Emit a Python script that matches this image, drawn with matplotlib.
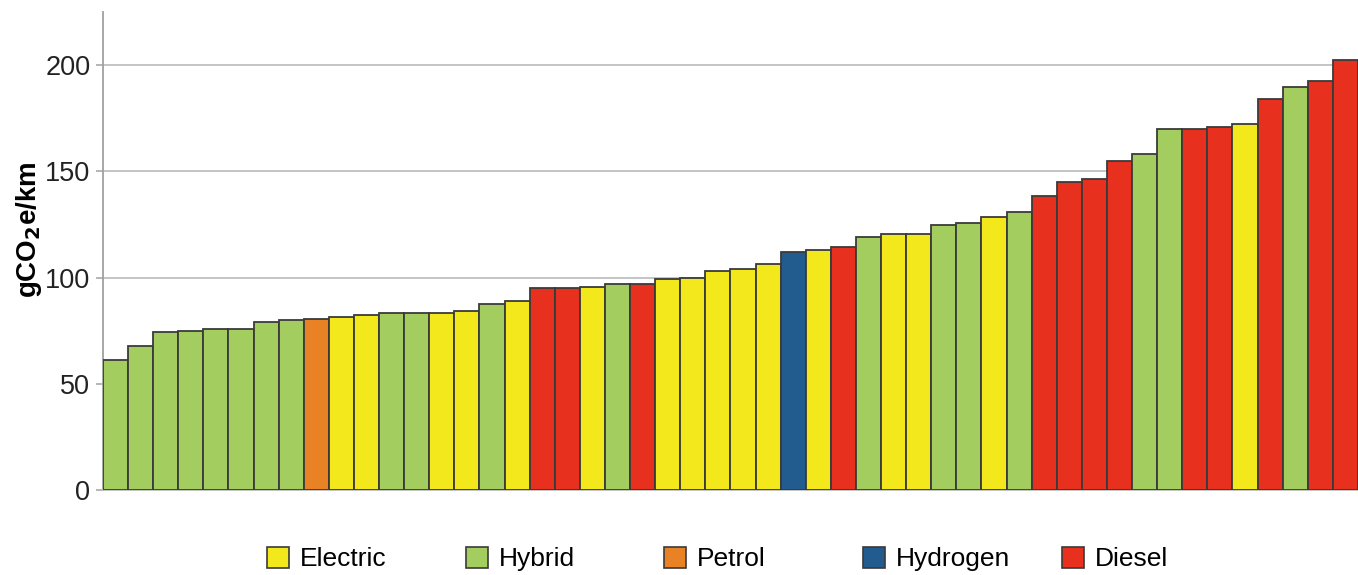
import numpy as np
import matplotlib.pyplot as plt
from matplotlib.patches import Patch

plt.rcParams['font.family'] = ['Liberation Sans', 'DejaVu Sans']

# 차량별 배출량 (왼쪽부터)
kinds = ['Hybrid', 'Hybrid', 'Hybrid', 'Hybrid', 'Hybrid', 'Hybrid', 'Hybrid', 'Hybrid',
         'Petrol', 'Electric', 'Electric', 'Hybrid', 'Hybrid', 'Electric', 'Electric',
         'Hybrid', 'Electric', 'Diesel', 'Diesel', 'Electric', 'Hybrid', 'Diesel',
         'Electric', 'Electric', 'Electric', 'Electric', 'Electric', 'Hydrogen',
         'Electric', 'Diesel', 'Hybrid', 'Electric', 'Electric', 'Hybrid', 'Hybrid',
         'Electric', 'Hybrid', 'Diesel', 'Diesel', 'Diesel', 'Diesel', 'Hybrid',
         'Hybrid', 'Diesel', 'Diesel', 'Electric', 'Diesel', 'Hybrid', 'Diesel', 'Diesel']
values = [61, 68, 74.5, 75, 76, 76, 79, 80,
          80.5, 81.5, 82.5, 83.5, 83.5, 83.5, 84.5,
          87.5, 89, 95, 95, 95.5, 97, 97,
          99.5, 100, 103, 104, 106.5, 112,
          113, 114.5, 119, 120.5, 120.5, 125, 125.5,
          128.5, 131, 138.5, 145, 146.5, 155, 158,
          170, 170, 171, 172.5, 184, 190, 192.5, 202.5]

legend_order = ['Electric', 'Hybrid', 'Petrol', 'Hydrogen', 'Diesel']
colors = {'Electric': '#f2e81c', 'Hybrid': '#a3cd5f', 'Petrol': '#e88224',
          'Hydrogen': '#225b8e', 'Diesel': '#e8301f'}
yticks = [0, 50, 100, 150, 200]

fig = plt.figure(figsize=(13.58, 5.75), dpi=100)
ax = fig.add_axes([0.0758, 0.1478, 0.9242, 0.831])

x = np.arange(len(values))
ax.bar(x, values, width=1.0, color=[colors[k] for k in kinds],
       edgecolor='#3a3a3a', linewidth=1.3, zorder=3)

ax.set_xlim(-0.5, len(values) - 0.5)
ax.set_ylim(0, 225)
ax.set_yticks(yticks)
ax.set_xticks([])
ax.tick_params(axis='y', labelsize=19.5, length=5, color='#b0b0b0', width=1.3, pad=4,
               labelcolor='#222222')
ax.grid(axis='y', color='#c4c4c4', linewidth=1.4, zorder=0)
ax.set_axisbelow(True)

for s in ['top', 'right']:
    ax.spines[s].set_visible(False)
ax.spines['left'].set_color('#a0a0a0')
ax.spines['left'].set_linewidth(1.3)
ax.spines['bottom'].set_color('#c4c4c4')
ax.spines['bottom'].set_linewidth(1.4)

ax.set_ylabel(r'gCO$_\mathbf{2}$e/km', fontsize=20, fontweight='bold')
ax.yaxis.set_label_coords(-0.047, 0.545)

# 범례는 칸마다 같은 간격으로 따로 놓음
leg_x = [267, 466, 664, 863, 1062]
for k, lx in zip(legend_order, leg_x):
    h = Patch(facecolor=colors[k], edgecolor='#3a3a3a', linewidth=1.2, label=k)
    fig.legend(handles=[h], loc='center left', bbox_to_anchor=(lx / 1358, 1 - 559 / 575),
               frameon=False, fontsize=19, handlelength=0.85, handleheight=0.85,
               handletextpad=0.4, borderpad=0, borderaxespad=0)

fig.savefig('out.png', dpi=100)
